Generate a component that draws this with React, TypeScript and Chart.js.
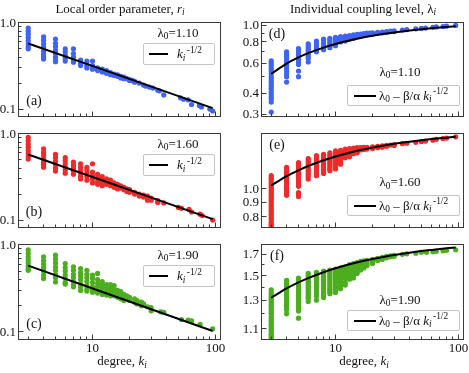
import React, { useEffect, useRef } from "react";
import { Chart, registerables } from "chart.js";

Chart.register(...registerables);

const FONT = '"Liberation Serif", "Times New Roman", Times, serif';

// ---------- data: [degree k, values at that degree] ----------
const rA: [number, number[]][] = [
  [3, [0.87, 0.8, 0.74, 0.68, 0.62, 0.57, 0.53, 0.5]],
  [4, [0.69, 0.63, 0.57, 0.52, 0.47, 0.43, 0.4, 0.38]],
  [5, [0.65, 0.58, 0.53, 0.48, 0.44, 0.4, 0.37, 0.355]],
  [6, [0.5, 0.46, 0.42, 0.39, 0.36]],
  [7, [0.5, 0.44, 0.4, 0.37, 0.35]],
  [8, [0.37, 0.34, 0.32]],
  [9, [0.36, 0.33, 0.31, 0.3]],
  [10, [0.36, 0.32, 0.3, 0.29]],
  [11, [0.3, 0.28]],
  [12, [0.29, 0.27]],
  [13, [0.28, 0.26]],
  [14, [0.265, 0.25]],
  [15, [0.255, 0.245]],
  [16, [0.25, 0.24]],
  [17, [0.24, 0.23]],
  [18, [0.235, 0.225]],
  [19, [0.225]],
  [20, [0.22, 0.215]],
  [21, [0.215]],
  [22, [0.21, 0.205]],
  [24, [0.2]],
  [26, [0.19]],
  [27, [0.185]],
  [29, [0.18]],
  [31, [0.175]],
  [34, [0.165]],
  [35, [0.163]],
  [38, [0.146]],
  [52, [0.135]],
  [55, [0.13]],
  [60, [0.128]],
  [64, [0.113]],
  [74, [0.11]],
  [77, [0.106]],
  [90, [0.1]],
  [95, [0.095]],
];

const rB: [number, number[]][] = [
  [3, [0.91, 0.83, 0.76, 0.7, 0.64, 0.59, 0.55, 0.51]],
  [4, [0.67, 0.61, 0.56, 0.51, 0.47, 0.44, 0.41]],
  [5, [0.58, 0.53, 0.48, 0.44, 0.4, 0.37]],
  [6, [0.53, 0.49, 0.45, 0.41, 0.38, 0.35]],
  [7, [0.47, 0.43, 0.4, 0.37, 0.34]],
  [8, [0.45, 0.41, 0.38, 0.35, 0.32, 0.3]],
  [9, [0.41, 0.38, 0.35, 0.32, 0.29]],
  [10, [0.45, 0.36, 0.33, 0.3, 0.27]],
  [11, [0.34, 0.31, 0.28, 0.26]],
  [12, [0.32, 0.29, 0.27, 0.25]],
  [13, [0.3, 0.28, 0.26]],
  [14, [0.29, 0.27, 0.25]],
  [15, [0.27, 0.25, 0.24]],
  [16, [0.26, 0.245, 0.23]],
  [17, [0.25, 0.235]],
  [18, [0.24, 0.225]],
  [19, [0.23, 0.215]],
  [20, [0.225, 0.21]],
  [22, [0.21, 0.2]],
  [24, [0.2, 0.19]],
  [26, [0.195, 0.185]],
  [28, [0.19, 0.18, 0.17]],
  [30, [0.18, 0.17]],
  [34, [0.168, 0.16]],
  [38, [0.158]],
  [50, [0.14]],
  [53, [0.137]],
  [61, [0.133]],
  [64, [0.124]],
  [75, [0.117]],
  [78, [0.113]],
  [95, [0.1]],
];

const rC: [number, number[]][] = [
  [3, [0.875, 0.8, 0.73, 0.67, 0.62, 0.57, 0.53, 0.51]],
  [4, [0.73, 0.66, 0.6, 0.55, 0.5, 0.45, 0.41]],
  [5, [0.765, 0.69, 0.62, 0.56, 0.51, 0.46, 0.42, 0.375]],
  [6, [0.61, 0.55, 0.5, 0.45, 0.41, 0.37, 0.355]],
  [7, [0.56, 0.51, 0.46, 0.42, 0.38, 0.35, 0.33]],
  [8, [0.535, 0.48, 0.44, 0.4, 0.36, 0.33, 0.3]],
  [9, [0.51, 0.46, 0.42, 0.38, 0.34, 0.31, 0.295]],
  [10, [0.45, 0.41, 0.37, 0.33, 0.3, 0.285]],
  [11, [0.47, 0.4, 0.36, 0.33, 0.3, 0.28]],
  [12, [0.38, 0.35, 0.32, 0.29, 0.27]],
  [13, [0.35, 0.32, 0.29, 0.265]],
  [14, [0.35, 0.32, 0.29, 0.26]],
  [15, [0.34, 0.31, 0.28, 0.26]],
  [16, [0.3, 0.27, 0.25]],
  [17, [0.29, 0.26, 0.24]],
  [18, [0.27, 0.25, 0.23]],
  [19, [0.26, 0.24]],
  [20, [0.25, 0.23]],
  [22, [0.24, 0.22]],
  [23, [0.23, 0.21]],
  [25, [0.22, 0.2]],
  [26, [0.21]],
  [28, [0.195]],
  [30, [0.19, 0.175]],
  [36, [0.17]],
  [38, [0.168]],
  [53, [0.139]],
  [60, [0.137]],
  [64, [0.134]],
  [75, [0.122]],
  [95, [0.109]],
];

const lamD: [number, number[]][] = [
  [3, [0.62, 0.6, 0.58, 0.56, 0.54, 0.52, 0.5, 0.485, 0.47, 0.455, 0.44, 0.425, 0.41, 0.395, 0.38, 0.37, 0.355, 0.31]],
  [4, [0.7, 0.68, 0.66, 0.64, 0.62, 0.6, 0.58, 0.56, 0.54, 0.52, 0.5, 0.465]],
  [5, [0.73, 0.71, 0.69, 0.67, 0.65, 0.63, 0.61, 0.59, 0.54, 0.5]],
  [6, [0.78, 0.76, 0.74, 0.72, 0.7, 0.68, 0.66, 0.64, 0.61]],
  [7, [0.81, 0.79, 0.77, 0.75, 0.73, 0.71, 0.7]],
  [8, [0.83, 0.81, 0.79, 0.77, 0.75, 0.73, 0.72]],
  [9, [0.84, 0.82, 0.8, 0.78, 0.76, 0.74]],
  [10, [0.85, 0.83, 0.81, 0.79, 0.77, 0.76]],
  [11, [0.86, 0.84, 0.82, 0.8]],
  [12, [0.865, 0.845, 0.825, 0.81]],
  [13, [0.87, 0.85, 0.83]],
  [14, [0.88, 0.86, 0.84]],
  [15, [0.885, 0.865]],
  [16, [0.89, 0.87]],
  [17, [0.895, 0.875]],
  [18, [0.9, 0.88]],
  [19, [0.9, 0.885]],
  [20, [0.905, 0.89]],
  [22, [0.91, 0.9]],
  [24, [0.915, 0.905]],
  [26, [0.92, 0.91]],
  [28, [0.925]],
  [30, [0.93, 0.92]],
  [35, [0.94]],
  [38, [0.945]],
  [45, [0.955]],
  [50, [0.96]],
  [54, [0.965]],
  [62, [0.975]],
  [66, [0.98]],
  [75, [0.985]],
  [80, [0.99]],
  [95, [1.0]],
];

const lamE: [number, number[]][] = [
  [3, [1.11, 1.09, 1.075, 1.055, 1.04, 1.025, 1.01, 0.995, 0.98, 0.965, 0.95, 0.935, 0.92, 0.905, 0.89, 0.875, 0.86, 0.845, 0.835, 0.82, 0.81, 0.795, 0.785, 0.77, 0.76, 0.75, 0.74]],
  [4, [1.185, 1.165, 1.15, 1.13, 1.11, 1.095, 1.08, 1.06, 1.045, 1.025, 1.01, 0.995, 0.98, 0.965, 0.95]],
  [5, [1.23, 1.21, 1.19, 1.17, 1.155, 1.135, 1.12, 1.1, 1.085, 1.065, 1.05, 1.035, 1.02, 0.97, 0.955, 0.94]],
  [6, [1.27, 1.25, 1.23, 1.21, 1.19, 1.17, 1.155, 1.135, 1.12, 1.1, 1.08]],
  [7, [1.3, 1.28, 1.26, 1.24, 1.22, 1.2, 1.18, 1.16, 1.145, 1.125, 1.11]],
  [8, [1.315, 1.295, 1.275, 1.255, 1.24, 1.22, 1.2, 1.18, 1.165, 1.145, 1.13]],
  [9, [1.33, 1.31, 1.29, 1.27, 1.255, 1.235, 1.22, 1.2, 1.185, 1.17, 1.155]],
  [10, [1.35, 1.33, 1.31, 1.29, 1.275, 1.255, 1.24, 1.22, 1.205, 1.185, 1.17]],
  [11, [1.355, 1.335, 1.32, 1.3, 1.285, 1.265, 1.25, 1.23, 1.215]],
  [12, [1.37, 1.355, 1.34, 1.325, 1.31, 1.295, 1.28]],
  [13, [1.375, 1.36, 1.345, 1.33, 1.315, 1.3, 1.29]],
  [14, [1.38, 1.365, 1.35, 1.335, 1.32]],
  [15, [1.385, 1.37, 1.355, 1.34, 1.33]],
  [16, [1.385, 1.37, 1.36]],
  [17, [1.39, 1.375, 1.365]],
  [18, [1.39, 1.38, 1.37]],
  [20, [1.395, 1.385, 1.375]],
  [22, [1.4, 1.385]],
  [24, [1.405, 1.39]],
  [26, [1.41, 1.4]],
  [28, [1.415]],
  [30, [1.42, 1.41]],
  [35, [1.43]],
  [38, [1.435]],
  [45, [1.445]],
  [50, [1.455]],
  [54, [1.46]],
  [62, [1.47]],
  [66, [1.48]],
  [75, [1.49]],
  [80, [1.495]],
  [95, [1.51]],
];

const lamF: [number, number[]][] = [
  [3, [1.38, 1.36, 1.345, 1.33, 1.315, 1.3, 1.285, 1.27, 1.255, 1.24, 1.225, 1.21, 1.2, 1.185, 1.17, 1.155, 1.145, 1.13, 1.12, 1.105, 1.095, 1.08, 1.07, 1.06, 1.05, 1.04]],
  [4, [1.46, 1.445, 1.425, 1.41, 1.395, 1.38, 1.365, 1.35, 1.335, 1.32, 1.305, 1.29, 1.275, 1.26, 1.25, 1.24, 1.23, 1.2]],
  [5, [1.48, 1.465, 1.445, 1.43, 1.41, 1.395, 1.38, 1.365, 1.35, 1.335, 1.32, 1.305, 1.29, 1.275, 1.26, 1.245, 1.235, 1.22, 1.17]],
  [6, [1.52, 1.505, 1.49, 1.47, 1.455, 1.44, 1.425, 1.41, 1.395, 1.38, 1.365, 1.35, 1.335, 1.32, 1.31, 1.29]],
  [7, [1.53, 1.515, 1.5, 1.485, 1.47, 1.455, 1.44, 1.425, 1.41, 1.395, 1.38, 1.365, 1.355, 1.34, 1.33, 1.3]],
  [8, [1.54, 1.525, 1.51, 1.495, 1.48, 1.465, 1.45, 1.435, 1.42, 1.405, 1.39, 1.375, 1.36, 1.35, 1.34, 1.32]],
  [9, [1.55, 1.535, 1.52, 1.505, 1.49, 1.475, 1.46, 1.445, 1.43, 1.415, 1.4, 1.385, 1.375, 1.36, 1.35]],
  [10, [1.56, 1.545, 1.53, 1.515, 1.5, 1.485, 1.47, 1.455, 1.44, 1.425, 1.41, 1.395, 1.385, 1.37, 1.36]],
  [11, [1.57, 1.555, 1.54, 1.525, 1.51, 1.495, 1.48, 1.465, 1.45, 1.435, 1.42, 1.405, 1.39]],
  [12, [1.58, 1.565, 1.55, 1.535, 1.52, 1.505, 1.49, 1.475, 1.44, 1.42]],
  [13, [1.6, 1.585, 1.57, 1.555, 1.54, 1.525, 1.51, 1.49, 1.47]],
  [14, [1.61, 1.595, 1.58, 1.565, 1.55, 1.535, 1.52, 1.5, 1.48]],
  [15, [1.62, 1.605, 1.59, 1.575, 1.56, 1.54, 1.52]],
  [16, [1.63, 1.615, 1.6, 1.585, 1.57, 1.55]],
  [17, [1.635, 1.62, 1.605, 1.59, 1.57]],
  [18, [1.64, 1.625, 1.615, 1.6, 1.59]],
  [20, [1.65, 1.64, 1.63, 1.62, 1.61]],
  [22, [1.66, 1.65, 1.64]],
  [24, [1.67, 1.66, 1.65]],
  [26, [1.68, 1.665]],
  [28, [1.685, 1.675]],
  [30, [1.69, 1.68]],
  [35, [1.7]],
  [38, [1.705]],
  [45, [1.71]],
  [50, [1.72]],
  [55, [1.72]],
  [62, [1.725]],
  [66, [1.73]],
  [75, [1.735]],
  [80, [1.74]],
  [95, [1.745]],
];

// reference lines
const lineK = [3, 95];
const lineR = [0.577, 0.1026];
const curveK = [3, 4, 5, 6, 8, 10, 13, 16, 20, 25, 32, 40, 50, 63, 80, 95];
const curveD = [0.52, 0.597, 0.649, 0.687, 0.741, 0.778, 0.816, 0.843, 0.869, 0.892, 0.915, 0.933, 0.95, 0.965, 0.979, 0.988];
const curveE = [1.026, 1.105, 1.158, 1.198, 1.254, 1.292, 1.331, 1.359, 1.386, 1.41, 1.434, 1.453, 1.47, 1.486, 1.5, 1.51];
const curveF = [1.318, 1.392, 1.442, 1.479, 1.531, 1.566, 1.603, 1.629, 1.654, 1.676, 1.698, 1.716, 1.732, 1.746, 1.76, 1.769];

// ticks
const xTicksMajor = [10, 100];
const xTickLabels = ["10", "100"];
const xTicksMinor = [3, 4, 5, 6, 7, 8, 9, 20, 30, 40, 50, 60, 70, 80, 90];
const rTicksMajor = [0.1, 1.0];
const rTickLabels = ["0.1", "1.0"];
const rTicksMinor = [0.2, 0.3, 0.4, 0.5, 0.6, 0.7, 0.8, 0.9];
const dTicksMajor = [0.3, 0.4, 0.6, 0.8, 1.0];
const dTickLabels = ["0.3", "0.4", "0.6", "0.8", "1.0"];
const dTicksMinor = [0.5, 0.7, 0.9];
const eTicksMajor = [0.8, 0.9, 1.0];
const eTickLabels = ["0.8", "0.9", "1.0"];
const eTicksMinor: number[] = [];
const fTicksMajor = [1.1, 1.3, 1.5, 1.7];
const fTickLabels = ["1.1", "1.3", "1.5", "1.7"];
const fTicksMinor = [1.2, 1.4, 1.6];

const lambda0 = ["1.10", "1.60", "1.90"];
const panelTags = ["(a)", "(b)", "(c)", "(d)", "(e)", "(f)"];

// ---------- layout ----------
const W = 469;
const H = 373;
const COL_L = [18.5, 261.5];
const COL_R = [220.5, 463.5];
const ROW_T = [22.5, 133.5, 244.5];
const ROW_B = [116.5, 227.5, 339.5];
const X_MIN = 2.5;
const X_MAX = 110;

const BLUE = "#3f63f2";
const RED = "#f02a2a";
const GREEN = "#4cae1e";

type PanelCfg = {
  col: number;
  row: number;
  pts: [number, number[]][];
  color: string;
  lx: number[];
  ly: number[];
  yMin: number;
  yMax: number;
  yMaj: number[];
  yLab: string[];
  yMinor: number[];
};

const PANELS: PanelCfg[] = [
  { col: 0, row: 0, pts: rA, color: BLUE, lx: lineK, ly: lineR, yMin: 0.082, yMax: 1.01, yMaj: rTicksMajor, yLab: rTickLabels, yMinor: rTicksMinor },
  { col: 0, row: 1, pts: rB, color: RED, lx: lineK, ly: lineR, yMin: 0.082, yMax: 1.01, yMaj: rTicksMajor, yLab: rTickLabels, yMinor: rTicksMinor },
  { col: 0, row: 2, pts: rC, color: GREEN, lx: lineK, ly: lineR, yMin: 0.082, yMax: 1.01, yMaj: rTicksMajor, yLab: rTickLabels, yMinor: rTicksMinor },
  { col: 1, row: 0, pts: lamD, color: BLUE, lx: curveK, ly: curveD, yMin: 0.292, yMax: 1.04, yMaj: dTicksMajor, yLab: dTickLabels, yMinor: dTicksMinor },
  { col: 1, row: 1, pts: lamE, color: RED, lx: curveK, ly: curveE, yMin: 0.736, yMax: 1.55, yMaj: eTicksMajor, yLab: eTickLabels, yMinor: eTicksMinor },
  { col: 1, row: 2, pts: lamF, color: GREEN, lx: curveK, ly: curveF, yMin: 1.033, yMax: 1.8, yMaj: fTicksMajor, yLab: fTickLabels, yMinor: fTicksMinor },
];

function PanelChart({ cfg }: { cfg: PanelCfg }) {
  const ref = useRef<HTMLCanvasElement>(null);
  useEffect(() => {
    const canvas = ref.current;
    if (!canvas) return;
    const left = COL_L[cfg.col];
    const right = COL_R[cfg.col];
    const top = ROW_T[cfg.row];
    const bottom = ROW_B[cfg.row];
    const showX = cfg.row === 2;

    const points = cfg.pts.flatMap(([k, vs]) => vs.map((v) => ({ x: k, y: v })));
    const line = cfg.lx.map((x, i) => ({ x, y: cfg.ly[i] }));

    const framePlugin = {
      id: "frameTicks",
      afterDatasetsDraw(chart: any) {
        const { ctx, chartArea: a, scales } = chart;
        const xs = scales.x;
        const ys = scales.y;
        ctx.save();
        ctx.strokeStyle = "#3a3a3a";
        ctx.lineWidth = 1;
        ctx.beginPath();
        const xt = (v: number, len: number) => {
          const x = Math.round(xs.getPixelForValue(v) - 0.5) + 0.5;
          if (x < a.left || x > a.right) return;
          ctx.moveTo(x, a.bottom);
          ctx.lineTo(x, a.bottom - len);
        };
        const yt = (v: number, len: number) => {
          const y = Math.round(ys.getPixelForValue(v) - 0.5) + 0.5;
          if (y < a.top - 0.5 || y > a.bottom + 0.5) return;
          ctx.moveTo(a.left, y);
          ctx.lineTo(a.left + len, y);
        };
        xTicksMajor.forEach((v) => xt(v, 5));
        xTicksMinor.forEach((v) => xt(v, 3));
        cfg.yMaj.forEach((v) => yt(v, 5));
        cfg.yMinor.forEach((v) => yt(v, 3));
        ctx.stroke();
        ctx.strokeRect(a.left, a.top, a.right - a.left, a.bottom - a.top);

        ctx.fillStyle = "#111";
        ctx.font = `13px ${FONT}`;
        ctx.textAlign = "right";
        ctx.textBaseline = "middle";
        cfg.yMaj.forEach((v, i) => {
          ctx.fillText(cfg.yLab[i], a.left - 2.5, ys.getPixelForValue(v) + 0.5);
        });
        if (showX) {
          ctx.textAlign = "center";
          ctx.textBaseline = "top";
          xTicksMajor.forEach((v, i) => {
            ctx.fillText(xTickLabels[i], xs.getPixelForValue(v), a.bottom + 3);
          });
        }
        ctx.restore();
      },
    };

    const chart = new Chart(canvas, {
      type: "scatter",
      data: {
        datasets: [
          {
            data: line,
            showLine: true,
            borderColor: "#000",
            borderWidth: 2,
            pointRadius: 0,
            cubicInterpolationMode: "monotone",
          } as any,
          {
            data: points,
            pointRadius: 2.6,
            pointBackgroundColor: cfg.color,
            pointBorderWidth: 0,
            borderWidth: 0,
          },
        ],
      },
      options: {
        responsive: false,
        animation: false,
        devicePixelRatio: 1,
        events: [],
        layout: { padding: { left, top, right: W - right, bottom: H - bottom } },
        plugins: { legend: { display: false }, tooltip: { enabled: false } },
        scales: {
          x: { type: "logarithmic", min: X_MIN, max: X_MAX, display: false },
          y: { type: "logarithmic", min: cfg.yMin, max: cfg.yMax, display: false },
        },
      },
      plugins: [framePlugin],
    });
    return () => chart.destroy();
  }, [cfg]);
  return <canvas ref={ref} width={W} height={H} style={{ position: "absolute", left: 0, top: 0 }} />;
}

const Sub = ({ c }: { c: React.ReactNode }) => (
  <span style={{ fontSize: "0.72em", position: "relative", top: "0.32em" }}>{c}</span>
);
const Sup = ({ c }: { c: React.ReactNode }) => (
  <span style={{ fontSize: "0.72em", position: "relative", top: "-0.55em", marginLeft: "0.15em" }}>{c}</span>
);

const Centered = ({ x, y, size = 13, children }: { x: number; y: number; size?: number; children: React.ReactNode }) => (
  <div
    style={{
      position: "absolute",
      left: x,
      top: y,
      transform: "translate(-50%, -50%)",
      whiteSpace: "nowrap",
      fontSize: size,
      lineHeight: 1,
      color: "#111",
    }}
  >
    {children}
  </div>
);

const LeftLegend = ({ top }: { top: number }) => (
  <div
    style={{
      position: "absolute",
      left: 143,
      top,
      width: 72,
      height: 22,
      boxSizing: "border-box",
      border: "1px solid #c4c4c4",
      borderRadius: 2,
      background: "#fff",
    }}
  >
    <div style={{ position: "absolute", left: 5, top: 9, width: 19, height: 2, background: "#000" }} />
    <div style={{ position: "absolute", left: 33, top: 3, fontSize: 13, lineHeight: 1, whiteSpace: "nowrap", color: "#111" }}>
      <i>k</i>
      <Sub c={<i>i</i>} />
      <Sup c="-1/2" />
    </div>
  </div>
);

const RightLegend = ({ top }: { top: number }) => (
  <div
    style={{
      position: "absolute",
      left: 347,
      top,
      width: 113,
      height: 21,
      boxSizing: "border-box",
      border: "1px solid #c4c4c4",
      borderRadius: 2,
      background: "#fff",
    }}
  >
    <div style={{ position: "absolute", left: 6, top: 9, width: 22, height: 2, background: "#000" }} />
    <div style={{ position: "absolute", left: 31, top: 3, fontSize: 13, lineHeight: 1, whiteSpace: "nowrap", color: "#111" }}>
      λ<Sub c="0" /> – β/α <i>k</i>
      <Sub c={<i>i</i>} />
      <Sup c="-1/2" />
    </div>
  </div>
);

export default function App() {
  const rightLamY = [71.5, 182, 299.5];
  const rightBoxTop = [84.5, 194.5, 309.5];
  return (
    <div
      style={{
        position: "absolute",
        left: 0,
        top: 0,
        width: W,
        height: H,
        background: "#fff",
        fontFamily: FONT,
        overflow: "hidden",
      }}
    >
      {PANELS.map((p, i) => (
        <PanelChart key={i} cfg={p} />
      ))}

      <Centered x={120} y={8.5}>
        Local order parameter, <i>r</i>
        <Sub c={<i>i</i>} />
      </Centered>
      <Centered x={363} y={8.5}>
        Individual coupling level, λ<Sub c={<i>i</i>} />
      </Centered>
      <Centered x={122} y={361}>
        degree, <i>k</i>
        <Sub c={<i>i</i>} />
      </Centered>
      <Centered x={364} y={361}>
        degree, <i>k</i>
        <Sub c={<i>i</i>} />
      </Centered>

      {[0, 1, 2].map((r) => (
        <React.Fragment key={"l" + r}>
          <Centered x={34} y={ROW_B[r] - 16} size={14}>
            {panelTags[r]}
          </Centered>
          <Centered x={178} y={ROW_T[r] + 10}>
            λ<Sub c="0" />={lambda0[r]}
          </Centered>
          <LeftLegend top={ROW_T[r] + 20.5} />
        </React.Fragment>
      ))}
      {[0, 1, 2].map((r) => (
        <React.Fragment key={"r" + r}>
          <Centered x={277} y={ROW_T[r] + 11} size={14}>
            {panelTags[3 + r]}
          </Centered>
          <Centered x={400} y={rightLamY[r]}>
            λ<Sub c="0" />={lambda0[r]}
          </Centered>
          <RightLegend top={rightBoxTop[r]} />
        </React.Fragment>
      ))}
    </div>
  );
}
